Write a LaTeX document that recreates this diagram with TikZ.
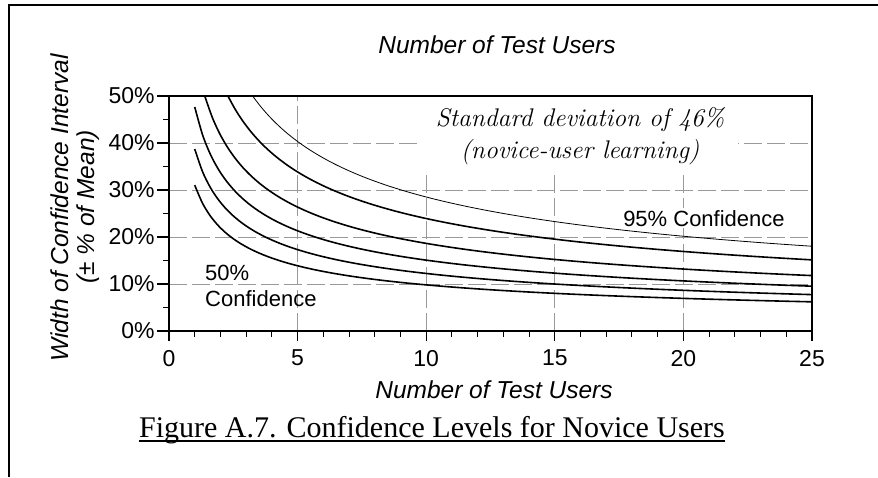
\documentclass[tikz,border=0pt]{standalone}
\usepackage{fontspec}
\newfontfamily\axisfont{Liberation Sans}
\newfontfamily\capfont{Liberation Serif}
\usetikzlibrary{positioning}

\begin{document}
\begin{tikzpicture}[x=1pt,y=1pt,
  curve/.style={line width=1.6pt},
  thincurve/.style={line width=0.8pt},
  gridline/.style={black!40,line width=0.8pt,dash pattern=on 18pt off 5pt},
  ticklab/.style={font=\axisfont\fontsize{23}{26}\selectfont,inner sep=0pt},
  axtitle/.style={font=\axisfont\itshape\fontsize{24.5}{27}\selectfont,inner sep=0pt}]
\useasboundingbox (0,0) rectangle (878,477);
% outer frame
\draw[line width=2pt] (878,472) -- (9,472) -- (9,0);
% titles
\node[axtitle] (toptitle) at (497,432) {Number of Test Users};
\node[axtitle] (bottitle) at (494,87) {Number of Test Users};
\node[axtitle,rotate=90] (ytitle) at (60,269) {Width of Confidence Interval};
\node[axtitle,rotate=90] (yunit) at (88,270) {(\textpm{} \% of Mean)};
\begin{scope}[shift={(169,146)},x=25.72pt,y=4.7pt]
  % grid
  \foreach \v in {10,20,30,40} \draw[gridline] (0,\v) -- (25,\v);
  \foreach \u in {5,10,15,20} \draw[gridline] (\u,0) -- (\u,50);
  \node[fill=white,minimum width=316pt,minimum height=78pt,align=center,
    font=\itshape\fontsize{25.5}{32}\selectfont] (sdbox) at (15.98,41.4)
    {Standard deviation of 46\%\\(novice-user learning)};
  \node[ticklab,fill=white,inner sep=2pt,font=\axisfont\fontsize{22}{26}\selectfont] (hilab) at (20.8,24) {95\% Confidence};
  \node[ticklab,anchor=west,align=left,font=\axisfont\fontsize{22}{26}\selectfont] (lolab) at (1.4,9.6) {50\%\\Confidence};
  % curves: z * 46 / sqrt(n)
  \draw[thincurve] plot[domain=3.2516:25,samples=80,smooth] (\x,{90.16/sqrt(\x)});
  \draw[curve] plot[domain=2.2904:25,samples=80,smooth] (\x,{75.67/sqrt(\x)});
  \draw[curve] plot[domain=1.390:25,samples=80,smooth] (\x,{58.95/sqrt(\x)});
  \draw[curve] plot[domain=1:25,samples=80,smooth] (\x,{47.67/sqrt(\x)});
  \draw[curve] plot[domain=1:25,samples=80,smooth] (\x,{38.71/sqrt(\x)});
  \draw[curve] plot[domain=1:25,samples=80,smooth] (\x,{31.03/sqrt(\x)});
  % axes and ticks
  \draw[line width=1.4pt] (0,0) rectangle (25,50);
  \foreach \u in {0,...,25} \draw[line width=1pt] (\u,0) -- ++(0,-6pt);
  \foreach \u in {0,5,...,25} {
    \draw[line width=1.2pt] (\u,0) -- ++(0,-10pt);
    \node[ticklab,anchor=north] (xl\u) at (\u,-4) {\u};
  }
  \foreach \v in {5,15,...,45} \draw[line width=1pt] (0,\v) -- ++(-6pt,0);
  \foreach \v in {0,10,...,50} {
    \draw[line width=1.2pt] (0,\v) -- ++(-12pt,0);
    \node[ticklab,anchor=east] (yl\v) at (-0.55,\v) {\v\%};
  }
\end{scope}
% caption
\node[font=\capfont\fontsize{30}{34}\selectfont,inner sep=0pt,anchor=base] (caption) at (432,40)
  {Figure A.7. Confidence Levels for Novice Users};
\draw[line width=2pt] ([yshift=-4pt]caption.base west) -- ([yshift=-4pt]caption.base east);
\end{tikzpicture}
\end{document}
